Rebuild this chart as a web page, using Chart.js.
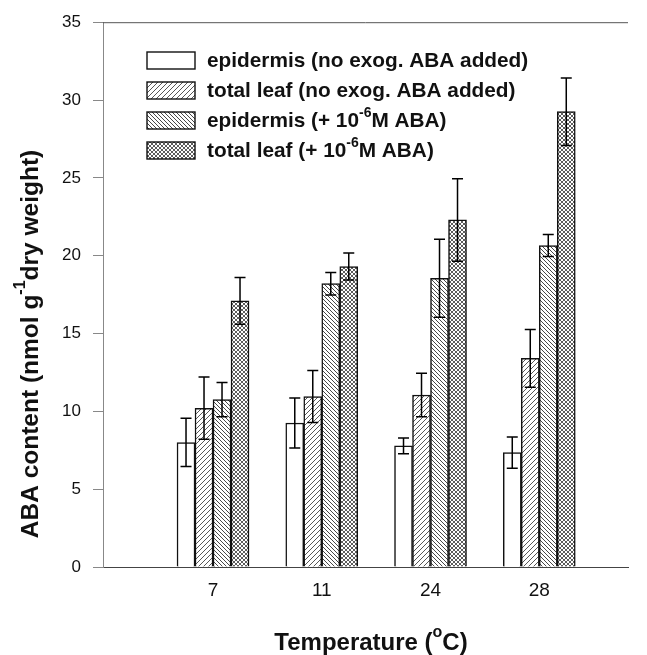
<!DOCTYPE html>
<html><head><meta charset="utf-8">
<script src="https://cdn.jsdelivr.net/npm/chart.js@4"></script>
<style>html,body{margin:0;padding:0;background:#fff}#wrap{width:647px;height:655px}</style>
</head><body><div id="wrap"><canvas id="c" width="647" height="655"></canvas></div>
<script>
// ---- data ----
const categories = ['7', '11', '24', '28'];
const xPositions = [1, 2, 3, 4];
const epidermisNoABA    = [8.0, 9.25, 7.78, 7.35];
const epidermisNoABAErr = [1.55, 1.6, 0.5, 1.0];
const leafNoABA         = [10.2, 10.95, 11.05, 13.4];
const leafNoABAErr      = [2.0, 1.67, 1.4, 1.86];
const epidermisABA      = [10.75, 18.2, 18.55, 20.65];
const epidermisABAErr   = [1.1, 0.72, 2.5, 0.71];
const leafABA           = [17.1, 19.3, 22.3, 29.25];
const leafABAErr        = [1.5, 0.87, 2.65, 2.17];
const yTicks = [0, 5, 10, 15, 20, 25, 30, 35];
const seriesLabels = [
  'epidermis (no exog. ABA added)',
  'total leaf (no exog. ABA added)',
  'epidermis (+ 10^{-6}M ABA)',
  'total leaf (+ 10^{-6}M ABA)'
];
const xTitle = 'Temperature (^{o}C)';
const yTitle = 'ABA content (nmol g^{-1}dry weight)';

const FONT = "'Liberation Sans', Arial, Helvetica, sans-serif";

// ---- patterns ----
function hatch(size, dirs, color, lw) {
  const c = document.createElement('canvas');
  c.width = size; c.height = size;
  const g = c.getContext('2d');
  g.fillStyle = '#fff'; g.fillRect(0, 0, size, size);
  g.strokeStyle = color; g.lineWidth = lw;
  g.beginPath();
  for (const d of dirs) {
    for (let k = -1; k <= 1; k++) {
      if (d === '/') { g.moveTo(k * size, size); g.lineTo(k * size + size, 0); }
      else { g.moveTo(k * size, 0); g.lineTo(k * size + size, size); }
    }
  }
  g.stroke();
  return document.createElement('canvas').getContext('2d').createPattern(c, 'repeat');
}
const fills = [
  '#ffffff',
  hatch(5, ['/'], '#444', 0.9),
  hatch(4, ['\\'], '#333', 0.9),
  hatch(4, ['/', '\\'], '#333', 0.8)
];

function plainLabel(s) { return s.replace(/\^\{([^}]*)\}/g, '$1'); }
function parts(s) {
  const out = []; const re = /\^\{([^}]*)\}/g; let last = 0, m;
  while ((m = re.exec(s))) {
    if (m.index > last) out.push({ t: s.slice(last, m.index), sup: false });
    out.push({ t: m[1], sup: true }); last = re.lastIndex;
  }
  if (last < s.length) out.push({ t: s.slice(last), sup: false });
  return out;
}
// draw rich text with superscripts; align 'left' or 'center'; baseline middle
function drawRich(ctx, s, x, y, size, align) {
  const ps = parts(s);
  const supSize = Math.round(size * 0.65);
  let total = 0;
  for (const p of ps) {
    ctx.font = 'bold ' + (p.sup ? supSize : size) + 'px ' + FONT;
    p.w = ctx.measureText(p.t).width; total += p.w;
  }
  let cx = align === 'center' ? x - total / 2 : x;
  ctx.textAlign = 'left'; ctx.textBaseline = 'middle';
  for (const p of ps) {
    ctx.font = 'bold ' + (p.sup ? supSize : size) + 'px ' + FONT;
    ctx.fillText(p.t, cx, p.sup ? y - size * 0.42 : y);
    cx += p.w;
  }
}

const values = [epidermisNoABA, leafNoABA, epidermisABA, leafABA];
const errors = [epidermisNoABAErr, leafNoABAErr, epidermisABAErr, leafABAErr];

const datasets = values.map((vals, i) => ({
  label: plainLabel(seriesLabels[i]),
  data: vals.map((v, j) => ({ x: xPositions[j], y: v })),
  backgroundColor: fills[i],
  borderColor: '#111',
  borderWidth: 1.5,
  barThickness: 18,
  errors: errors[i]
}));

const deco = {
  id: 'deco',
  afterDatasetsDraw(chart) {
    const ctx = chart.ctx, ys = chart.scales.y;
    ctx.save();
    ctx.strokeStyle = '#000'; ctx.lineWidth = 1.5;
    chart.data.datasets.forEach((ds, i) => {
      const meta = chart.getDatasetMeta(i);
      meta.data.forEach((el, j) => {
        const v = ds.data[j].y, e = ds.errors[j];
        const yt = ys.getPixelForValue(v + e), yb = ys.getPixelForValue(v - e);
        const x = el.x, cap = 5.5;
        ctx.beginPath();
        ctx.moveTo(x, yt); ctx.lineTo(x, yb);
        ctx.moveTo(x - cap, yt); ctx.lineTo(x + cap, yt);
        ctx.moveTo(x - cap, yb); ctx.lineTo(x + cap, yb);
        ctx.stroke();
      });
    });
    ctx.restore();
  },
  afterDraw(chart) {
    const ctx = chart.ctx, a = chart.chartArea;
    ctx.save();
    // top frame line
    ctx.strokeStyle = '#555'; ctx.lineWidth = 1;
    ctx.beginPath(); ctx.moveTo(a.left, a.top + 0.5); ctx.lineTo(a.right, a.top + 0.5); ctx.stroke();
    // legend
    const rowY = [60.5, 90.5, 120.5, 150.5];
    seriesLabels.forEach((lab, i) => {
      const bx = 147, bw = 48, bh = 17, by = rowY[i] - bh / 2;
      ctx.fillStyle = fills[i];
      ctx.fillRect(bx, by, bw, bh);
      ctx.strokeStyle = '#111'; ctx.lineWidth = 1.4;
      ctx.strokeRect(bx, by, bw, bh);
      ctx.fillStyle = '#111';
      drawRich(ctx, lab, 207, rowY[i] + 1, 20.8, 'left');
    });
    // x title
    ctx.fillStyle = '#111';
    drawRich(ctx, xTitle, 371, 643, 24, 'center');
    // y title
    ctx.translate(31, 344);
    ctx.rotate(-Math.PI / 2);
    drawRich(ctx, yTitle, 0, 0, 24.5, 'center');
    ctx.restore();
  }
};

new Chart(document.getElementById('c'), {
  type: 'bar',
  data: { datasets },
  options: {
    responsive: false,
    animation: false,
    layout: { padding: { top: 22, right: 19, left: 0, bottom: 0 } },
    plugins: { legend: { display: false }, tooltip: { enabled: false } },
    scales: {
      x: {
        type: 'linear',
        offset: false,
        min: -0.0117,
        max: 4.816,
        afterFit(s) { s.height = 88; },
        afterBuildTicks(s) { s.ticks = xPositions.map(v => ({ value: v })); },
        grid: { display: false, drawTicks: false },
        border: { display: true, color: '#444', width: 1 },
        ticks: {
          padding: 12,
          color: '#111',
          font: { family: FONT, size: 19 },
          callback: (v) => categories[xPositions.indexOf(v)] ?? ''
        }
      },
      y: {
        min: 0, max: 35,
        afterFit(s) { s.width = 103; },
        afterBuildTicks(s) { s.ticks = yTicks.map(v => ({ value: v })); },
        grid: { drawOnChartArea: false, drawTicks: true, tickLength: 10, color: '#888' },
        border: { display: true, color: '#888', width: 1 },
        ticks: { padding: 12, color: '#111', font: { family: FONT, size: 17 } }
      }
    }
  },
  plugins: [deco]
});
</script>
</body></html>
